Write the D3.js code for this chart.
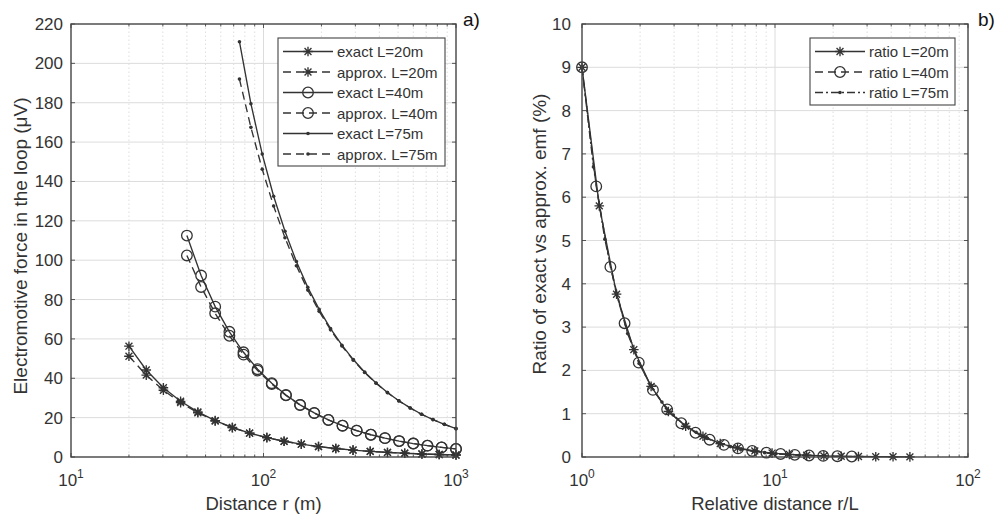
<!DOCTYPE html>
<html><head><meta charset="utf-8">
<script src="https://cdn.jsdelivr.net/npm/d3@7"></script>
<style>
html,body{margin:0;padding:0;background:#fff;}
svg{display:block;font-family:"Liberation Sans",Arial,sans-serif;}
</style></head>
<body>
<svg id="c" width="999" height="516"></svg>
<script>
// ---------- data: panel a) ----------
const r20 = [20, 24.6, 30.2, 37.1, 45.6, 56.1, 68.9, 84.7, 104.1, 127.9, 157.2, 193.1, 237.4, 291.8, 358.4, 440.6, 541.4, 665.4, 817.8, 1000];
const exact20 = [56.3, 44.2, 35.2, 28.3, 22.9, 18.5, 15.0, 12.16, 9.87, 8.02, 6.52, 5.30, 4.31, 3.51, 2.86, 2.32, 1.89, 1.54, 1.25, 1.02];
const approx20 = [51.2, 41.6, 33.9, 27.6, 22.5, 18.3, 14.9, 12.1, 9.84, 8.01, 6.51, 5.30, 4.31, 3.51, 2.86, 2.32, 1.89, 1.54, 1.25, 1.02];
const r40 = [40, 47.4, 56.1, 66.5, 78.7, 93.2, 110.4, 130.8, 154.9, 183.5, 217.3, 257.4, 304.8, 361.1, 427.6, 506.4, 600, 710.8, 841.6, 1000];
const exact40 = [112.5, 92.2, 76.4, 63.6, 53.2, 44.6, 37.5, 31.5, 26.5, 22.4, 18.85, 15.93, 13.42, 11.31, 9.59, 8.09, 6.83, 5.76, 4.87, 4.10];
const approx40 = [102.4, 86.4, 73.0, 61.6, 52.0, 43.9, 37.1, 31.3, 26.4, 22.3, 18.8, 15.9, 13.4, 11.3, 9.58, 8.09, 6.83, 5.76, 4.87, 4.10];
const r75 = [75, 86.0, 98.5, 112.9, 129.3, 148.2, 169.8, 194.6, 223.0, 255.5, 292.7, 335.5, 384.4, 440.5, 504.7, 578.3, 662.7, 759.0, 870.0, 1000];
const exact75 = [211.0, 179.5, 153.9, 132.5, 114.7, 99.3, 86.2, 75.0, 65.2, 56.8, 49.5, 43.1, 37.6, 32.8, 28.55, 24.93, 21.72, 19.01, 16.61, 14.41];
const approx75 = [192.0, 167.5, 146.2, 127.5, 111.4, 97.2, 84.8, 74.0, 64.6, 56.4, 49.2, 42.9, 37.5, 32.7, 28.5, 24.9, 21.7, 19.0, 16.6, 14.4];
// ---------- data: panel b) ----------
const rel20 = [1, 1.229, 1.510, 1.856, 2.281, 2.803, 3.445, 4.234, 5.203, 6.394, 7.858, 9.657, 11.87, 14.59, 17.92, 22.03, 27.07, 33.27, 40.89, 50];
const ratio20 = [9, 5.8, 3.76, 2.48, 1.63, 1.05, 0.71, 0.48, 0.31, 0.21, 0.14, 0.09, 0.06, 0.04, 0.025, 0.016, 0.011, 0.007, 0.005, 0.003];
const rel40 = [1, 1.185, 1.403, 1.662, 1.968, 2.331, 2.761, 3.270, 3.873, 4.587, 5.433, 6.435, 7.621, 9.027, 10.69, 12.66, 15.0, 17.77, 21.04, 25];
const ratio40 = [9, 6.25, 4.39, 3.09, 2.18, 1.55, 1.10, 0.78, 0.56, 0.40, 0.28, 0.20, 0.14, 0.10, 0.07, 0.05, 0.035, 0.025, 0.018, 0.012];
const rel75 = [1, 1.146, 1.313, 1.505, 1.724, 1.976, 2.264, 2.594, 2.973, 3.406, 3.903, 4.473, 5.125, 5.873, 6.729, 7.711, 8.836, 10.12, 11.6, 13.33];
const ratio75 = [9, 6.7, 5.03, 3.78, 2.85, 2.16, 1.66, 1.27, 0.97, 0.74, 0.57, 0.43, 0.32, 0.24, 0.18, 0.13, 0.10, 0.075, 0.055, 0.04];
// ---------- ticks / labels ----------
const yTicksA = [0, 20, 40, 60, 80, 100, 120, 140, 160, 180, 200, 220];
const xDecadesA = [10, 100, 1000];
const yTicksB = [0, 1, 2, 3, 4, 5, 6, 7, 8, 9, 10];
const xDecadesB = [1, 10, 100];
const legendA = ["exact L=20m", "approx. L=20m", "exact L=40m", "approx. L=40m", "exact L=75m", "approx. L=75m"];
const legendB = ["ratio L=20m", "ratio L=40m", "ratio L=75m"];

const INK = "#333";
const svg = d3.select("#c");

function marker(g, type, x, y) {
  if (type === "star") {
    const s = 4.8, d = s * 0.72;
    g.append("path").attr("d",
      `M${x-s},${y}L${x+s},${y}M${x},${y-s}L${x},${y+s}M${x-d},${y-d}L${x+d},${y+d}M${x-d},${y+d}L${x+d},${y-d}`)
      .attr("stroke", INK).attr("stroke-width", 1.35).attr("fill", "none");
  } else if (type === "circle") {
    g.append("circle").attr("cx", x).attr("cy", y).attr("r", 5.3)
      .attr("fill", "none").attr("stroke", INK).attr("stroke-width", 1.3);
  } else {
    g.append("circle").attr("cx", x).attr("cy", y).attr("r", 1.8).attr("fill", INK);
  }
}

function panel(cfg) {
  const x = d3.scaleLog().domain(cfg.xDomain).range(cfg.xRange);
  const y = d3.scaleLinear().domain(cfg.yDomain).range(cfg.yRange);
  const g = svg.append("g");
  const [x0, x1] = cfg.xRange, [y0, y1] = cfg.yRange; // y0 bottom, y1 top
  // minor grid
  const minors = [];
  for (let i = 0; i < cfg.decades.length - 1; i++)
    for (let k = 2; k <= 9; k++) minors.push(cfg.decades[i] * k);
  g.selectAll(".mg").data(minors).join("line")
    .attr("x1", d => x(d)).attr("x2", d => x(d)).attr("y1", y0).attr("y2", y1)
    .attr("stroke", "#d6d6d6").attr("stroke-width", 0.8).attr("stroke-dasharray", "1.5,2.5");
  // major grid
  g.selectAll(".gx").data(cfg.decades.slice(1, -1)).join("line")
    .attr("x1", d => x(d)).attr("x2", d => x(d)).attr("y1", y0).attr("y2", y1)
    .attr("stroke", "#dcdcdc").attr("stroke-width", 1);
  g.selectAll(".gy").data(cfg.yTicks.slice(1, -1)).join("line")
    .attr("x1", x0).attr("x2", x1).attr("y1", d => y(d)).attr("y2", d => y(d))
    .attr("stroke", "#dcdcdc").attr("stroke-width", 1);
  // ticks (inside, all four sides)
  const tk = g.append("g").attr("stroke", "#555").attr("stroke-width", 1);
  cfg.yTicks.forEach(v => {
    tk.append("line").attr("x1", x0).attr("x2", x0 + 4).attr("y1", y(v)).attr("y2", y(v));
    tk.append("line").attr("x1", x1).attr("x2", x1 - 4).attr("y1", y(v)).attr("y2", y(v));
  });
  cfg.decades.forEach(v => {
    tk.append("line").attr("x1", x(v)).attr("x2", x(v)).attr("y1", y0).attr("y2", y0 - 4);
    tk.append("line").attr("x1", x(v)).attr("x2", x(v)).attr("y1", y1).attr("y2", y1 + 4);
  });
  minors.forEach(v => {
    tk.append("line").attr("x1", x(v)).attr("x2", x(v)).attr("y1", y0).attr("y2", y0 - 2.5);
    tk.append("line").attr("x1", x(v)).attr("x2", x(v)).attr("y1", y1).attr("y2", y1 + 2.5);
  });
  // tick labels
  g.selectAll(".yl").data(cfg.yTicks).join("text")
    .attr("x", x0 - cfg.yLabGap).attr("y", d => y(d) + 6)
    .attr("text-anchor", "end").attr("font-size", 17).attr("fill", INK).text(d => d);
  cfg.decades.forEach(v => {
    const t = g.append("text").attr("x", x(v)).attr("y", 486)
      .attr("text-anchor", "middle").attr("font-size", 17).attr("fill", INK);
    t.append("tspan").text("10");
    t.append("tspan").attr("dy", -8).attr("font-size", 12).text(Math.round(Math.log10(v)));
  });
  // series
  const line = d3.line().x(d => x(d[0])).y(d => y(d[1]));
  cfg.series.forEach(s => {
    const pts = s.xs.map((v, i) => [v, s.ys[i]]);
    g.append("path").attr("d", line(pts)).attr("fill", "none")
      .attr("stroke", INK).attr("stroke-width", 1.35)
      .attr("stroke-dasharray", s.dash || null);
    const mg = g.append("g");
    pts.forEach(p => marker(mg, s.marker, x(p[0]), y(p[1])));
  });
  // box
  g.append("rect").attr("x", x0).attr("y", y1).attr("width", x1 - x0).attr("height", y0 - y1)
    .attr("fill", "none").attr("stroke", "#444").attr("stroke-width", 1.4);
  // axis titles
  svg.append("text").attr("x", (x0 + x1) / 2).attr("y", 510).attr("text-anchor", "middle")
    .attr("font-size", 18.5).attr("fill", INK).text(cfg.xTitle);
  svg.append("text").attr("transform", `translate(${cfg.yTitleX},${cfg.yTitleY}) rotate(-90)`)
    .attr("text-anchor", "middle").attr("font-size", 19).attr("fill", INK).text(cfg.yTitle);
  svg.append("text").attr("x", cfg.tagX).attr("y", 26).attr("font-size", 19).attr("fill", "#111").text(cfg.tag);
  // legend
  const L = cfg.legend;
  const lg = svg.append("g");
  lg.append("rect").attr("x", L.x).attr("y", L.y).attr("width", L.w).attr("height", L.h)
    .attr("fill", "#fff").attr("stroke", "#444").attr("stroke-width", 1.1);
  L.labels.forEach((lab, i) => {
    const s = cfg.series[i];
    const cy = L.y + L.first + i * L.step;
    lg.append("line").attr("x1", L.x + 5).attr("x2", L.x + 55).attr("y1", cy).attr("y2", cy)
      .attr("stroke", INK).attr("stroke-width", 1.3).attr("stroke-dasharray", s.dash || null);
    marker(lg, s.marker, L.x + 30, cy);
    lg.append("text").attr("x", L.x + 59).attr("y", cy + 5.5).attr("font-size", 15)
      .attr("fill", INK).text(lab);
  });
}

panel({
  xDomain: [10, 1000], xRange: [71, 456], yDomain: [0, 220], yRange: [457, 24],
  decades: xDecadesA, yTicks: yTicksA, yLabGap: 8,
  xTitle: "Distance r (m)", yTitle: "Electromotive force in the loop (μV)", yTitleX: 27, yTitleY: 246,
  tag: "a)", tagX: 463,
  series: [
    {xs: r20, ys: exact20, marker: "star"},
    {xs: r20, ys: approx20, marker: "star", dash: "8,5"},
    {xs: r40, ys: exact40, marker: "circle"},
    {xs: r40, ys: approx40, marker: "circle", dash: "8,5"},
    {xs: r75, ys: exact75, marker: "dot"},
    {xs: r75, ys: approx75, marker: "dot", dash: "8,5"}
  ],
  legend: {x: 278, y: 38, w: 167, h: 128, first: 13.5, step: 20.5, labels: legendA}
});

panel({
  xDomain: [1, 100], xRange: [582, 968], yDomain: [0, 10], yRange: [457, 24],
  decades: xDecadesB, yTicks: yTicksB, yLabGap: 11,
  xTitle: "Relative distance r/L", yTitle: "Ratio of exact vs approx. emf (%)", yTitleX: 546, yTitleY: 234,
  tag: "b)", tagX: 978,
  series: [
    {xs: rel20, ys: ratio20, marker: "star"},
    {xs: rel40, ys: ratio40, marker: "circle", dash: "8,5"},
    {xs: rel75, ys: ratio75, marker: "dot", dash: "8,3,2,3"}
  ],
  legend: {x: 810, y: 38, w: 145, h: 67, first: 13.5, step: 20.5, labels: legendB}
});
</script>
</body></html>
